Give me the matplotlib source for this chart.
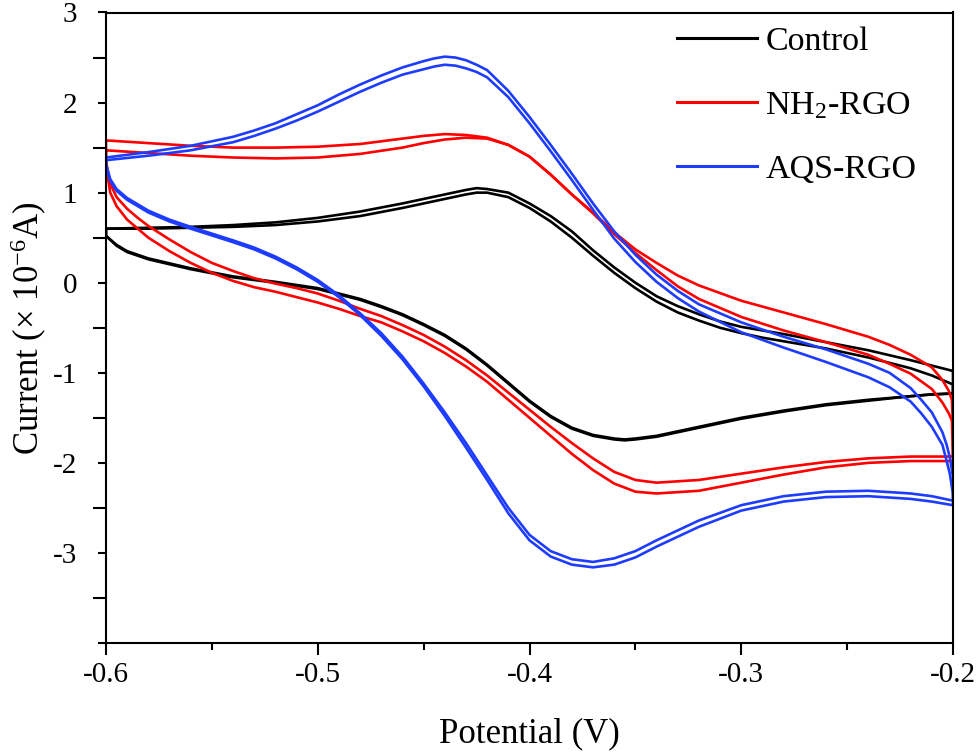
import numpy as np
import matplotlib
matplotlib.use("Agg")
import matplotlib.pyplot as plt
from matplotlib.ticker import FixedLocator, FuncFormatter
from matplotlib.lines import Line2D

plt.rcParams['font.family'] = ['Liberation Serif', 'DejaVu Serif']
plt.rcParams['mathtext.fontset'] = 'custom'
plt.rcParams['mathtext.rm'] = 'Liberation Serif'
plt.rcParams['mathtext.it'] = 'Liberation Serif:italic'
plt.rcParams['axes.unicode_minus'] = False

# ---------------- data (Potential in V, Current in 1e-6 A) ----------------
SERIES = ["Control", "NH$_2$-RGO", "AQS-RGO"]
COLORS = ["#000000", "#ff0000", "#1e3cff"]

# Control
V_CTRL_UP = [-0.6, -0.58, -0.56, -0.54, -0.52, -0.5, -0.48, -0.46, -0.45, -0.44, -0.43, -0.425,
             -0.42, -0.41, -0.4, -0.39, -0.38, -0.37, -0.36, -0.35, -0.34, -0.33, -0.32, -0.31,
             -0.3, -0.29, -0.28, -0.26, -0.24, -0.22, -0.21, -0.2]
I_CTRL_UP1 = [0.60, 0.61, 0.62, 0.64, 0.67, 0.72, 0.79, 0.88, 0.93, 0.98, 1.03, 1.05,
              1.04, 1.00, 0.88, 0.74, 0.57, 0.36, 0.17, 0.00, -0.15, -0.26, -0.35, -0.43,
              -0.49, -0.53, -0.57, -0.66, -0.75, -0.86, -0.92, -0.98]
I_CTRL_UP2 = [0.60, 0.60, 0.61, 0.62, 0.64, 0.68, 0.74, 0.83, 0.88, 0.93, 0.98, 1.00,
              1.00, 0.95, 0.83, 0.68, 0.50, 0.30, 0.11, -0.06, -0.21, -0.33, -0.42, -0.50,
              -0.56, -0.61, -0.65, -0.73, -0.83, -0.95, -1.03, -1.13]
V_CTRL_DN = [-0.2, -0.21, -0.22, -0.24, -0.26, -0.28, -0.3, -0.32, -0.33, -0.34, -0.35, -0.355,
             -0.36, -0.37, -0.38, -0.39, -0.4, -0.41, -0.42, -0.43, -0.44, -0.45, -0.46, -0.47,
             -0.48, -0.49, -0.5, -0.52, -0.54, -0.56, -0.58, -0.59, -0.595, -0.6]
I_CTRL_DN1 = [-1.23, -1.24, -1.26, -1.30, -1.35, -1.42, -1.50, -1.60, -1.65, -1.70, -1.73, -1.74,
              -1.73, -1.69, -1.61, -1.48, -1.31, -1.11, -0.91, -0.73, -0.58, -0.46, -0.35, -0.26,
              -0.18, -0.12, -0.06, 0.01, 0.07, 0.16, 0.27, 0.35, 0.42, 0.52]
I_CTRL_DN2 = [-1.23, -1.24, -1.26, -1.31, -1.36, -1.43, -1.51, -1.61, -1.66, -1.71, -1.74, -1.75,
              -1.74, -1.70, -1.62, -1.49, -1.32, -1.12, -0.92, -0.74, -0.59, -0.47, -0.36, -0.27,
              -0.19, -0.13, -0.07, 0.00, 0.06, 0.15, 0.26, 0.34, 0.41, 0.52]

# NH2-RGO
V_RED_UP = [-0.6, -0.58, -0.56, -0.54, -0.52, -0.5, -0.48, -0.46, -0.45, -0.44, -0.43, -0.42,
            -0.41, -0.4, -0.39, -0.38, -0.37, -0.36, -0.35, -0.34, -0.33, -0.32, -0.3, -0.28,
            -0.26, -0.24, -0.23, -0.22, -0.21, -0.205, -0.202, -0.2005, -0.2]
I_RED_UP1 = [1.58, 1.55, 1.52, 1.50, 1.50, 1.51, 1.54, 1.60, 1.63, 1.65, 1.64, 1.61,
             1.53, 1.40, 1.20, 0.98, 0.78, 0.56, 0.37, 0.22, 0.08, -0.03, -0.20, -0.33,
             -0.46, -0.60, -0.69, -0.80, -0.94, -1.08, -1.20, -1.30, -1.60]
I_RED_UP2 = [1.47, 1.44, 1.41, 1.39, 1.38, 1.39, 1.43, 1.50, 1.55, 1.59, 1.61, 1.60,
             1.53, 1.40, 1.20, 0.98, 0.77, 0.54, 0.33, 0.14, -0.04, -0.18, -0.38, -0.53,
             -0.66, -0.80, -0.90, -1.01, -1.18, -1.33, -1.45, -1.53, -1.94]
V_RED_DN = [-0.2, -0.22, -0.24, -0.26, -0.28, -0.3, -0.32, -0.34, -0.35, -0.36, -0.37, -0.38,
            -0.39, -0.4, -0.41, -0.42, -0.43, -0.44, -0.45, -0.46, -0.47, -0.48, -0.49, -0.5,
            -0.51, -0.52, -0.53, -0.54, -0.55, -0.56, -0.57, -0.58, -0.585, -0.59, -0.595,
            -0.598, -0.6]
I_RED_DN1 = [-1.93, -1.93, -1.95, -1.99, -2.05, -2.12, -2.19, -2.22, -2.19, -2.10, -1.95, -1.78,
             -1.60, -1.41, -1.22, -1.03, -0.86, -0.71, -0.58, -0.47, -0.37, -0.29, -0.20, -0.12,
             -0.06, -0.01, 0.05, 0.13, 0.22, 0.34, 0.48, 0.63, 0.72, 0.82, 0.95, 1.10, 1.35]
I_RED_DN2 = [-1.98, -1.98, -2.00, -2.05, -2.13, -2.22, -2.31, -2.34, -2.32, -2.23, -2.08, -1.90,
             -1.70, -1.50, -1.30, -1.10, -0.93, -0.78, -0.65, -0.54, -0.44, -0.37, -0.29, -0.22,
             -0.16, -0.10, -0.05, 0.02, 0.11, 0.22, 0.35, 0.50, 0.60, 0.70, 0.85, 1.00, 1.30]

# AQS-RGO
V_BLUE_UP = [-0.6, -0.58, -0.56, -0.54, -0.53, -0.52, -0.51, -0.5, -0.49, -0.48, -0.47, -0.46,
             -0.45, -0.445, -0.44, -0.435, -0.43, -0.425, -0.42, -0.41, -0.4, -0.39, -0.38,
             -0.37, -0.36, -0.35, -0.34, -0.33, -0.32, -0.3, -0.28, -0.26, -0.24, -0.23, -0.22,
             -0.215, -0.21, -0.205, -0.203, -0.2015, -0.2]
I_BLUE_UP1 = [1.39, 1.45, 1.52, 1.62, 1.69, 1.77, 1.87, 1.97, 2.09, 2.20, 2.30, 2.39,
              2.46, 2.49, 2.51, 2.50, 2.47, 2.42, 2.36, 2.13, 1.84, 1.53, 1.21,
              0.88, 0.57, 0.31, 0.09, -0.09, -0.24, -0.44, -0.60, -0.74, -0.90, -1.00, -1.17,
              -1.30, -1.44, -1.66, -1.80, -1.94, -2.15]
I_BLUE_UP2 = [1.36, 1.41, 1.47, 1.56, 1.63, 1.71, 1.80, 1.90, 2.01, 2.12, 2.22, 2.31,
              2.37, 2.40, 2.42, 2.41, 2.38, 2.34, 2.28, 2.06, 1.77, 1.46, 1.14,
              0.81, 0.49, 0.23, 0.01, -0.17, -0.32, -0.55, -0.72, -0.88, -1.05, -1.16, -1.32,
              -1.45, -1.60, -1.80, -1.98, -2.12, -2.35]
V_BLUE_DN = [-0.2, -0.21, -0.22, -0.24, -0.26, -0.28, -0.3, -0.32, -0.34, -0.35, -0.36, -0.37,
             -0.38, -0.39, -0.4, -0.41, -0.42, -0.43, -0.44, -0.45, -0.46, -0.47, -0.48, -0.49,
             -0.5, -0.51, -0.52, -0.53, -0.54, -0.56, -0.57, -0.58, -0.59, -0.595, -0.598, -0.6]
I_BLUE_DN1 = [-2.42, -2.37, -2.34, -2.31, -2.32, -2.37, -2.47, -2.64, -2.86, -2.98, -3.06, -3.10,
              -3.07, -2.98, -2.80, -2.50, -2.14, -1.78, -1.44, -1.12, -0.82, -0.56, -0.34, -0.14,
              0.03, 0.17, 0.29, 0.39, 0.47, 0.62, 0.70, 0.80, 0.94, 1.04, 1.15, 1.32]
I_BLUE_DN2 = [-2.47, -2.43, -2.40, -2.37, -2.38, -2.43, -2.53, -2.71, -2.93, -3.05, -3.13, -3.16,
              -3.13, -3.04, -2.86, -2.56, -2.19, -1.83, -1.48, -1.15, -0.85, -0.59, -0.36, -0.16,
              0.01, 0.15, 0.27, 0.37, 0.45, 0.60, 0.68, 0.78, 0.92, 1.02, 1.13, 1.30]

X_TICKS = [-0.6, -0.5, -0.4, -0.3, -0.2]
X_MINOR = [-0.55, -0.45, -0.35, -0.25]
Y_TICKS = [-4, -3, -2, -1, 0, 1, 2, 3]
Y_MINOR = [-3.5, -2.5, -1.5, -0.5, 0.5, 1.5, 2.5]

# ---------------- figure ----------------
fig = plt.figure(figsize=(9.8, 7.54), dpi=100)
ax = fig.add_axes([106 / 980, 1 - 643 / 754, 847 / 980, 630.5 / 754])

loops = [
    (COLORS[0], V_CTRL_UP, [I_CTRL_UP1, I_CTRL_UP2], V_CTRL_DN, [I_CTRL_DN1, I_CTRL_DN2]),
    (COLORS[1], V_RED_UP, [I_RED_UP1, I_RED_UP2], V_RED_DN, [I_RED_DN1, I_RED_DN2]),
    (COLORS[2], V_BLUE_UP, [I_BLUE_UP1, I_BLUE_UP2], V_BLUE_DN, [I_BLUE_DN1, I_BLUE_DN2]),
]
for color, vup, iups, vdn, idns in loops:
    for iup, idn in zip(iups, idns):
        v = list(vup) + list(vdn) + [vup[0]]
        i = list(iup) + list(idn) + [iup[0]]
        ax.plot(v, i, color=color, lw=1.9, solid_joinstyle='round',
                solid_capstyle='round', clip_on=True)

ax.set_xlim(-0.6, -0.2)
ax.set_ylim(-4, 3)

ax.xaxis.set_major_locator(FixedLocator(X_TICKS))
ax.xaxis.set_minor_locator(FixedLocator(X_MINOR))
ax.yaxis.set_major_locator(FixedLocator(Y_TICKS))
ax.yaxis.set_minor_locator(FixedLocator(Y_MINOR))
ax.xaxis.set_major_formatter(FuncFormatter(lambda v, p: f"{v:.1f}"))
ax.yaxis.set_major_formatter(FuncFormatter(lambda v, p: "" if v < -3.5 else f"{int(round(v))}"))

ax.tick_params(axis='x', which='major', direction='out', length=8.5, width=1.5,
               labelsize=21, pad=5, top=False)
ax.tick_params(axis='x', which='minor', direction='out', length=5, width=1.5, top=False)
ax.tick_params(axis='y', which='major', direction='out', length=5.8, width=1.5,
               labelsize=21, pad=15, right=False)
ax.tick_params(axis='y', which='minor', direction='out', length=9.4, width=1.5, right=False)

for sp in ax.spines.values():
    sp.set_linewidth(1.5)

ax.set_xlabel("Potential (V)", fontsize=25, labelpad=21)
ax.set_ylabel("Current (× 10$^{-6}$A)", fontsize=25)
ax.yaxis.set_label_coords(-0.067, 0.5)

handles = [Line2D([], [], color=c, lw=2.2) for c in COLORS]
ax.legend(handles, SERIES, loc='upper left', bbox_to_anchor=(0.674, 0.979),
          frameon=False, fontsize=24.5, handlelength=2.35, handletextpad=0.25,
          labelspacing=0.98, borderpad=0, borderaxespad=0)

fig.savefig("out.png", dpi=100)
